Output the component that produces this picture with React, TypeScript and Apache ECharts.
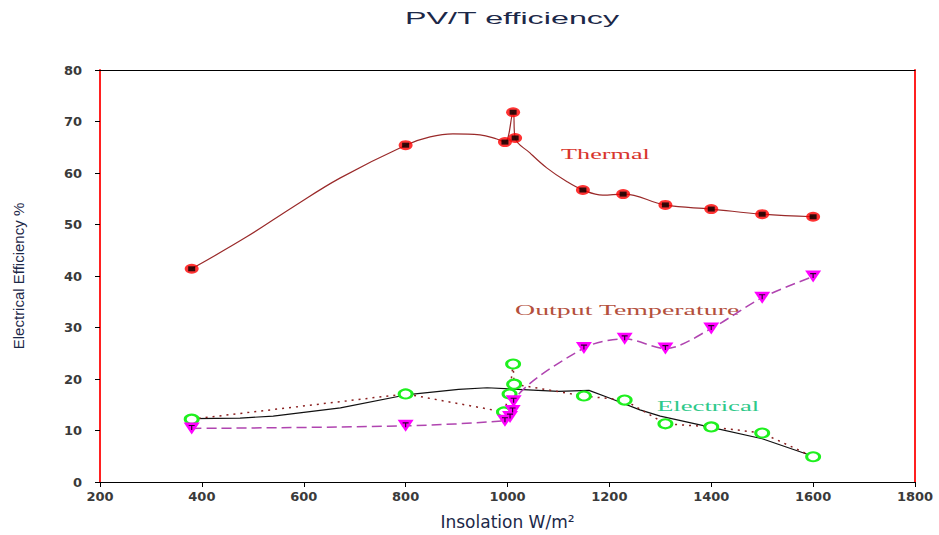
import React, { useEffect, useRef } from "react";
import * as echarts from "echarts";

// ---- Data ----
const xMin = 200;
const xMax = 1800;
const xInterval = 200;
const yMin = 0;
const yMax = 80;
const yInterval = 10;

// Thermal efficiency (measured markers)
const thermalX = [380, 800, 995, 1011, 1015, 1148, 1227, 1310, 1400, 1500, 1600];
const thermalY = [41.4, 65.4, 66.0, 71.8, 66.8, 56.7, 55.9, 53.8, 53.0, 52.0, 51.5];

// Thermal efficiency curve (drawn trend line)
const thermalCurveX = [380, 488, 579, 671, 800, 848, 893, 946, 979, 995, 1011, 1015, 1044, 1077, 1117, 1148, 1187, 1227, 1310, 1400, 1500, 1600];
const thermalCurveY = [41.4, 47.6, 53.4, 59.0, 65.4, 67.0, 67.6, 67.4, 66.6, 66.0, 71.8, 66.8, 63.9, 61.0, 58.3, 56.7, 55.7, 55.9, 53.8, 53.0, 52.0, 51.5];

// Output temperature
const tempX = [380, 800, 995, 1005, 1010, 1012, 1150, 1230, 1310, 1400, 1500, 1600];
const tempY = [10.4, 10.9, 11.9, 12.6, 13.8, 15.7, 26.0, 27.8, 25.9, 29.8, 35.8, 39.9];

// Electrical efficiency (measured points, dotted connector)
const elecX = [380, 800, 993, 1004, 1011, 1013, 1150, 1230, 1310, 1400, 1500, 1600];
const elecY = [12.2, 17.1, 13.6, 17.1, 22.9, 19.0, 16.7, 15.9, 11.3, 10.7, 9.5, 4.9];

// Electrical efficiency trend (solid black curve)
const elecTrendX = [380, 475, 540, 672, 800, 904, 960, 1060, 1100, 1160, 1200, 1260, 1300, 1400, 1500, 1600];
const elecTrendY = [12.3, 12.4, 12.8, 14.4, 16.9, 18.0, 18.3, 17.8, 17.6, 17.8, 16.3, 14.0, 12.8, 10.6, 8.4, 5.0];

const zip = (xs: number[], ys: number[]) => xs.map((x, i) => [x, ys[i]]);

const T_PATH = "path://M0,0 L10,0 L10,2 L6,2 L6,9 L4,9 L4,2 L0,2 Z";

export default function App() {
  const ref = useRef<HTMLDivElement>(null);

  useEffect(() => {
    if (!ref.current) return;
    const chart = echarts.init(ref.current, undefined, { renderer: "svg" });

    const axisLabelStyle = {
      fontFamily: "DejaVu Sans",
      fontWeight: "bold" as const,
      fontSize: 13,
      color: "#3a3a3a",
      formatter: (v: number) => String(v),
    };

    chart.setOption({
      animation: false,
      backgroundColor: "#ffffff",
      grid: { left: 100, right: 24, top: 70, bottom: 53, containLabel: false },
      xAxis: [
        {
          type: "value",
          position: "bottom",
          min: xMin,
          max: xMax,
          interval: xInterval,
          axisLine: { show: true, onZero: false, lineStyle: { color: "#000", width: 1 } },
          axisTick: { show: true, inside: false, length: 5, lineStyle: { color: "#000", width: 1 } },
          axisLabel: { ...axisLabelStyle, margin: 8 },
          splitLine: { show: false },
          name: "Insolation W/m²",
          nameLocation: "middle",
          nameGap: 31,
          nameTextStyle: { fontFamily: "DejaVu Sans", fontSize: 17, color: "#1c2848" },
        },
        {
          type: "value",
          position: "top",
          min: xMin,
          max: xMax,
          interval: xInterval,
          axisLine: { show: true, onZero: false, lineStyle: { color: "#000", width: 1 } },
          axisTick: { show: false },
          axisLabel: { show: false },
          splitLine: { show: false },
        },
      ],
      yAxis: [
        {
          type: "value",
          position: "left",
          min: yMin,
          max: yMax,
          interval: yInterval,
          axisLine: { show: true, onZero: false, lineStyle: { color: "#ff2020", width: 2 } },
          axisTick: { show: true, inside: false, length: 5, lineStyle: { color: "#000", width: 1 } },
          axisLabel: { ...axisLabelStyle, margin: 18 },
          splitLine: { show: false },
          name: "Electrical Efficiency %",
          nameLocation: "middle",
          nameGap: 74,
          nameTextStyle: { fontFamily: "Liberation Sans", fontSize: 15, color: "#1c2848" },
        },
        {
          type: "value",
          position: "right",
          min: yMin,
          max: yMax,
          interval: yInterval,
          axisLine: { show: true, onZero: false, lineStyle: { color: "#ff2020", width: 2 } },
          axisTick: { show: false },
          axisLabel: { show: false },
          splitLine: { show: false },
        },
      ],
      graphic: [
        {
          type: "text",
          x: 405,
          y: 18,
          scaleX: 1.9,
          style: {
            text: "PV/T efficiency",
            fontFamily: "Liberation Sans",
            fontSize: 17,
            fill: "#1c2848",
            align: "left",
            verticalAlign: "middle",
          },
        },
        {
          type: "text",
          x: 561,
          y: 154,
          scaleX: 1.75,
          style: {
            text: "Thermal",
            fontFamily: "Liberation Serif",
            fontSize: 15,
            fill: "#d8342c",
            align: "left",
            verticalAlign: "middle",
          },
        },
        {
          type: "text",
          x: 515,
          y: 310,
          scaleX: 1.86,
          style: {
            text: "Output Temperature",
            fontFamily: "Liberation Serif",
            fontSize: 15,
            fill: "#b4503c",
            align: "left",
            verticalAlign: "middle",
          },
        },
        {
          type: "text",
          x: 657,
          y: 406,
          scaleX: 1.78,
          style: {
            text: "Electrical",
            fontFamily: "Liberation Serif",
            fontSize: 15,
            fill: "#2ec98a",
            align: "left",
            verticalAlign: "middle",
          },
        },
      ],
      series: [
        {
          name: "Electrical trend",
          type: "line",
          data: zip(elecTrendX, elecTrendY),
          showSymbol: false,
          symbol: "none",
          lineStyle: { color: "#111", width: 1.2 },
          z: 2,
        },
        {
          name: "Electrical",
          type: "line",
          data: zip(elecX, elecY),
          symbol: "circle",
          symbolSize: [13, 9],
          showAllSymbol: true,
          lineStyle: { color: "#8b2020", width: 1.5, type: [2, 5] },
          itemStyle: { color: "#ffffff", borderColor: "#1ef01e", borderWidth: 2.5 },
          z: 3,
        },
        {
          name: "Output Temperature",
          type: "line",
          data: zip(tempX, tempY),
          smooth: 0.3,
          symbol: "triangle",
          symbolRotate: 180,
          symbolSize: [16, 12],
          showAllSymbol: true,
          lineStyle: { color: "#b044b0", width: 1.5, type: [10, 5] },
          itemStyle: { color: "#ff00ff", borderWidth: 0 },
          z: 4,
        },
        {
          name: "Output Temperature centre",
          type: "scatter",
          data: zip(tempX, tempY),
          symbol: T_PATH,
          symbolSize: [6, 5],
          symbolOffset: [0, -1],
          itemStyle: { color: "#000" },
          z: 5,
        },
        {
          name: "Thermal curve",
          type: "line",
          data: zip(thermalCurveX, thermalCurveY),
          smooth: 0.4,
          showSymbol: false,
          symbol: "none",
          lineStyle: { color: "#9a2a2a", width: 1.2 },
          z: 6,
        },
        {
          name: "Thermal",
          type: "scatter",
          data: zip(thermalX, thermalY),
          symbol: "circle",
          symbolSize: [14, 10],
          itemStyle: { color: "#ff0000", borderWidth: 0 },
          z: 7,
        },
        {
          name: "Thermal centre",
          type: "scatter",
          data: zip(thermalX, thermalY),
          symbol: "rect",
          symbolSize: [7, 5],
          itemStyle: { color: "#000" },
          z: 8,
        },
      ],
    });

    return () => chart.dispose();
  }, []);

  return (
    <div
      ref={ref}
      style={{ position: "fixed", left: 0, top: 0, width: 939, height: 535, background: "#fff" }}
    />
  );
}
